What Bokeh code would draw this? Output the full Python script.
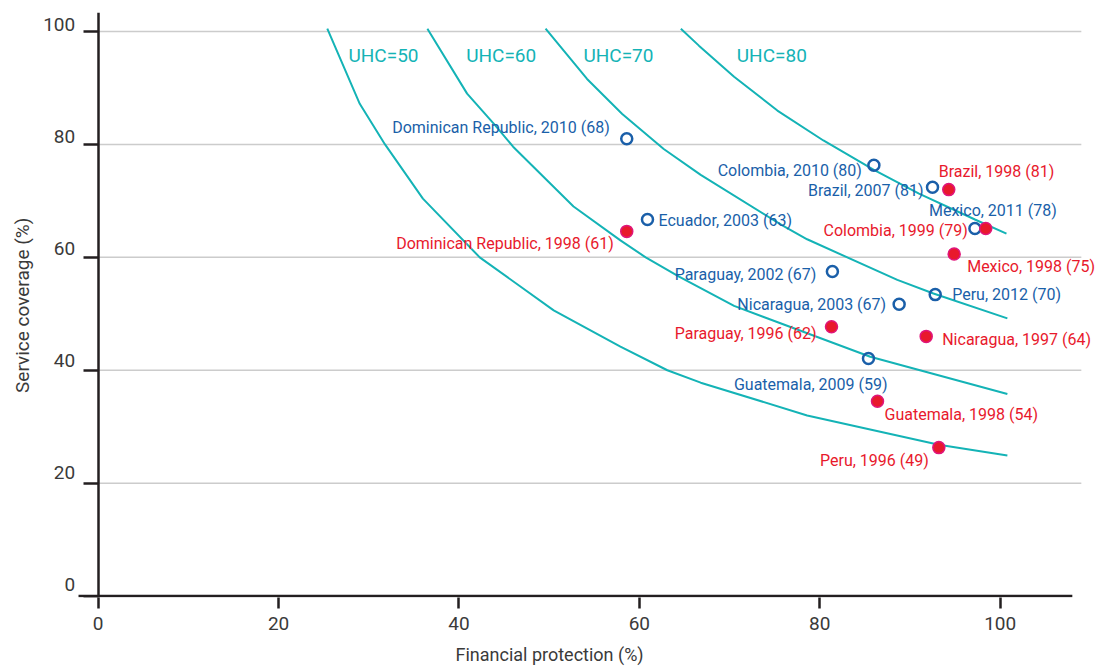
import math
from bokeh.plotting import figure
from bokeh.models import ColumnDataSource, FixedTicker, Title
from bokeh.core.properties import value
from bokeh.embed import file_html
from bokeh.resources import INLINE

# ---------------- data ----------------
blue_names = ["Dominican Republic", "Ecuador", "Colombia", "Brazil", "Mexico",
              "Paraguay", "Nicaragua", "Peru", "Guatemala"]
blue_years = [2010, 2003, 2010, 2007, 2011, 2002, 2003, 2012, 2009]
blue_uhc = [68, 63, 80, 81, 78, 67, 67, 70, 59]
blue_fin = [58.6, 60.9, 86.0, 92.5, 97.2, 81.4, 88.8, 92.8, 85.4]
blue_svc = [81.0, 66.7, 76.3, 72.4, 65.1, 57.5, 51.7, 53.4, 42.1]

red_names = ["Brazil", "Colombia", "Mexico", "Dominican Republic", "Paraguay",
             "Nicaragua", "Guatemala", "Peru"]
red_years = [1998, 1999, 1998, 1998, 1996, 1997, 1998, 1996]
red_uhc = [81, 79, 75, 61, 62, 64, 54, 49]
red_fin = [94.3, 98.4, 94.9, 58.6, 81.3, 91.8, 86.4, 93.2]
red_svc = [72.0, 65.1, 60.6, 64.6, 47.7, 46.0, 34.5, 26.3]

uhc_levels = [50, 60, 70, 80]
uhc50_fin = [25.4, 29.0, 31.8, 36.0, 42.3, 50.5, 57.9, 63.1, 66.8, 78.6, 93.2, 100.8]
uhc50_svc = [100.5, 87.2, 80.0, 70.4, 60.0, 50.6, 44.2, 40.0, 37.8, 32.0, 26.8, 24.9]
uhc60_fin = [36.5, 40.9, 43.9, 46.0, 52.7, 57.9, 60.7, 64.4, 70.5, 85.6, 100.8]
uhc60_svc = [100.5, 89.0, 83.6, 79.6, 69.0, 63.0, 60.0, 56.6, 51.4, 42.4, 35.8]
uhc70_fin = [49.6, 54.2, 58.1, 62.7, 66.8, 75.8, 78.6, 88.6, 92.6, 100.8]
uhc70_svc = [100.5, 91.6, 85.4, 79.2, 74.6, 65.7, 63.2, 56.0, 53.6, 49.2]
uhc80_fin = [64.6, 66.6, 70.5, 75.3, 80.4, 86.0, 91.0, 97.2, 100.7]
uhc80_svc = [100.5, 97.5, 92.0, 86.0, 80.7, 75.5, 71.3, 66.7, 64.2]
curve_fin = [uhc50_fin, uhc60_fin, uhc70_fin, uhc80_fin]
curve_svc = [uhc50_svc, uhc60_svc, uhc70_svc, uhc80_svc]

x_ticks = [0, 20, 40, 60, 80, 100]
y_ticks = [0, 20, 40, 60, 80, 100]
x_title = "Financial protection (%)"
y_title = "Service coverage (%)"

# ---------------- layout / style ----------------
FONT = "Roboto"
TEAL = "#14b3b6"
BLUE = "#1a5fa9"
RED = "#e8192c"
RED_EDGE = "#e0157a"
AXIS = "#231f20"
TXT = "#3a3a3a"

X0, X1 = -10.83, 111.9          # frame spans the whole canvas width
Y0, Y1 = -0.25, 103.37
XLINE0, XLINE1 = -2.18, 108.0   # extent of the drawn x-axis line
GRID_END = 109.0

# label placement (align, dx px, dy px; dy positive = downwards)
blue_lab = [("right", -17, -11), ("left", 11, 1), ("right", -12, 5), ("right", -9, 3),
            ("center", 18, -18), ("right", -16, 3), ("right", -13, 0), ("left", 17, 0),
            ("right", 19, 26)]
red_lab = [("left", -10, -18), ("right", -18, 2), ("left", 13, 13), ("right", -13, 12),
           ("right", -15, 7), ("left", 16, 3), ("left", 7, 13), ("right", -10, 13)]
uhc_label_pos = [(27.75, 95.7), (40.8, 95.7), (53.8, 95.7), (70.8, 95.7)]
y_label_dy = [-12, -11, -10, -9, -8, -7]   # tick labels float above their gridlines
y_title_pos = (-8.39, 51.5)

p = figure(frame_width=1107, frame_height=585, x_range=(X0, X1), y_range=(Y0, Y1),
           output_backend="svg", toolbar_location=None,
           min_border_left=0, min_border_right=0, min_border_top=12, min_border_bottom=60)
p.outline_line_color = None
p.xgrid.visible = False
p.ygrid.visible = False
p.background_fill_color = "white"
p.border_fill_color = "white"

# x axis (line drawn separately so it can start left of the y axis)
xa = p.xaxis[0]
xa.ticker = FixedTicker(ticks=x_ticks)
xa.axis_line_color = None
xa.major_tick_line_color = AXIS
xa.major_tick_line_width = 2.5
xa.major_tick_out = 11
xa.major_tick_in = 0
xa.minor_tick_out = 0
xa.minor_tick_in = 0
xa.major_label_standoff = 8
xa.major_label_text_font = FONT
xa.major_label_text_font_size = "19px"
xa.major_label_text_color = TXT

# y axis placed at x = 0
ya = p.yaxis[0]
ya.fixed_location = 0
ya.ticker = FixedTicker(ticks=y_ticks)
ya.major_label_overrides = {t: "" for t in y_ticks}
ya.axis_line_color = AXIS
ya.axis_line_width = 2.5
ya.major_tick_line_color = AXIS
ya.major_tick_line_width = 2.5
ya.major_tick_out = 15
ya.major_tick_in = 0
ya.minor_tick_out = 0
ya.minor_tick_in = 0

# gridlines from the y axis rightwards
gy = y_ticks[1:]
p.segment(x0=[0] * len(gy), y0=gy, x1=[GRID_END] * len(gy), y1=gy,
          line_color="#cccccc", line_width=1.5)
# x axis line
p.segment(x0=[XLINE0], y0=[0], x1=[XLINE1], y1=[0], line_color=AXIS, line_width=2.5)

# UHC curves
for fx, fy in zip(curve_fin, curve_svc):
    p.line(fx, fy, line_color=TEAL, line_width=2)

p.text(x=[q[0] for q in uhc_label_pos], y=[q[1] for q in uhc_label_pos],
       text=[f"UHC={u}" for u in uhc_levels], text_color=TEAL,
       text_font=value(FONT), text_font_size="19px",
       text_align="left", text_baseline="middle")

# points
p.scatter(blue_fin, blue_svc, marker="circle", size=11, fill_color=None,
          line_color=BLUE, line_width=2.5)
p.scatter(red_fin, red_svc, marker="circle", size=12, fill_color=RED,
          line_color=RED_EDGE, line_width=1.5)

def lab_source(names, years, uhc, fx, fy, lay):
    return ColumnDataSource(dict(
        x=fx, y=fy,
        t=[f"{n}, {y} ({u})" for n, y, u in zip(names, years, uhc)],
        align=[l[0] for l in lay], dx=[l[1] for l in lay], dy=[l[2] for l in lay]))

for src, col in [(lab_source(blue_names, blue_years, blue_uhc, blue_fin, blue_svc, blue_lab), BLUE),
                 (lab_source(red_names, red_years, red_uhc, red_fin, red_svc, red_lab), RED)]:
    p.text(x="x", y="y", text="t", source=src, x_offset="dx", y_offset="dy",
           text_align="align", text_baseline="middle", text_color=col,
           text_font=value(FONT), text_font_size="16px")

# y tick labels (sit slightly above their gridlines)
ysrc = ColumnDataSource(dict(x=[0] * len(y_ticks), y=y_ticks,
                             t=[str(t) for t in y_ticks], dy=y_label_dy))
p.text(x="x", y="y", text="t", source=ysrc, x_offset=-23, y_offset="dy",
       text_align="right", text_baseline="middle",
       text_font=value(FONT), text_font_size="19px", text_color=TXT)

# y axis title
p.text(x=[y_title_pos[0]], y=[y_title_pos[1]], text=[y_title], angle=math.pi / 2,
       text_align="center", text_baseline="middle",
       text_font=value(FONT), text_font_size="19px", text_color=TXT)

# x axis title
p.add_layout(Title(text=x_title, align="left", offset=455, standoff=18,
                   text_font=FONT, text_font_size="18px", text_font_style="normal",
                   text_color=TXT), "below")

open("out.html", "w").write(file_html(p, INLINE))
